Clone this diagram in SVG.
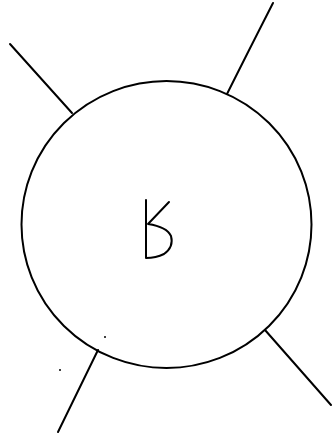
<svg xmlns="http://www.w3.org/2000/svg" width="332" height="443" viewBox="0 0 332 443">
<style>
.s{fill:none;stroke:#000;stroke-width:2;stroke-linecap:round;stroke-linejoin:round}
</style>
<rect width="332" height="443" fill="#fff"/>
<g id="connectors">
<path class="s" d="M10 44 L72 113"/>
<path class="s" d="M273 3 Q248 52 227 94"/>
<path class="s" d="M98 350 L58 432"/>
<path class="s" d="M265 330 L331 405"/>
</g>
<g id="node">
<ellipse class="s" cx="166.5" cy="224.5" rx="145" ry="143.5"/>
<path class="s" d="M146 200 L146 258 Q156 258 164 254 Q174 247 171 236 Q167 227 148 224 L169 202"/>
</g>
<circle cx="60" cy="370" r="1" fill="#000"/>
<circle cx="105" cy="337" r="1" fill="#000"/>
</svg>
